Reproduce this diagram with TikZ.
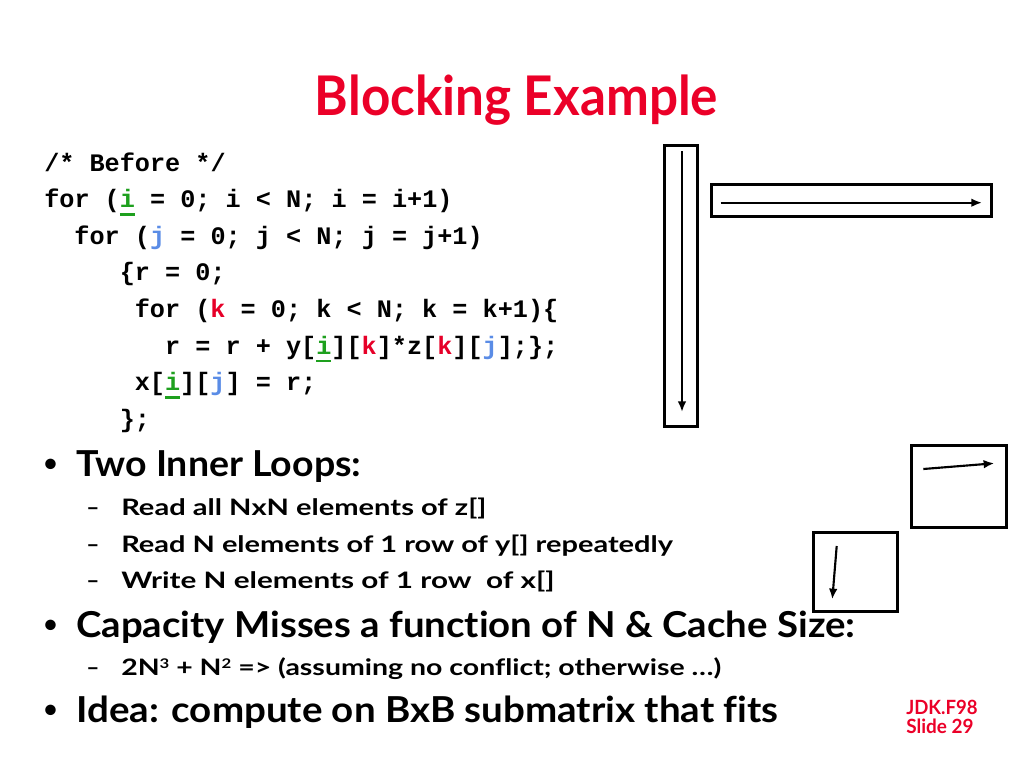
\documentclass[tikz,border=0pt]{standalone}
\usepackage{fontspec}
\usepackage{graphicx}
\usetikzlibrary{arrows.meta}
\newfontfamily\csans{Lato}[Ligatures={NoCommon,NoRare}]
\setmonofont{Liberation Mono}
\definecolor{tred}{RGB}{235,0,40}
\definecolor{cgreen}{RGB}{30,160,30}
\definecolor{cblue}{RGB}{90,140,230}
\definecolor{cred}{RGB}{230,0,40}
\newcommand\gi{\textcolor{cgreen}{\makebox[0pt][l]{\rule[-6.2pt]{0.6em}{1.9pt}}i}}
\newcommand\bj{\textcolor{cblue}{j}}
\newcommand\rk{\textcolor{cred}{k}}
\newcommand\fitw[2]{\resizebox{#1pt}{\height}{#2}}
\newcommand\supr[1]{\raisebox{0.6ex}{\fontsize{10}{10}\selectfont #1}}
\begin{document}
\begin{tikzpicture}[x=0.75pt,y=-0.75pt,
 code/.style={anchor=base west,inner sep=0pt,font=\ttfamily\bfseries\fontsize{18.9}{20}\selectfont},
 lone/.style={anchor=base west,inner sep=0pt,font=\csans\bfseries\fontsize{26.8}{28}\selectfont},
 ltwo/.style={anchor=base west,inner sep=0pt,font=\csans\bfseries\fontsize{17}{18}\selectfont},
 bul/.style={anchor=center,inner sep=0pt,font=\csans\bfseries\fontsize{18}{20}\selectfont},
 box/.style={draw,line width=2.25pt},
 arr/.style={line width=1.6pt,-{Latex[length=8pt,width=6.5pt]}}]
\useasboundingbox (0,0) rectangle (1024,768);
% title
\node[anchor=base,inner sep=0pt,text=tred,font=\csans\bfseries\fontsize{41}{42}\selectfont] (title) at (516.5,115) {\fitw{302.3}{Blocking Example}};
% code
\node[code] (c1) at (44,171) {/* Before */};
\node[code] (c2) at (44,207.6) {for (\gi{} = 0; i < N; i = i+1)};
\node[code] (c3) at (74.2,244.2) {for (\bj{} = 0; j < N; j = j+1)};
\node[code] (c4) at (119.5,280.8) {\{r = 0;};
\node[code] (c5) at (134.6,317.4) {for (\rk{} = 0; k < N; k = k+1)\{};
\node[code] (c6) at (164.8,354) {r = r + y[\gi][\rk]*z[\rk][\bj];\};};
\node[code] (c7) at (134.6,390.6) {x[\gi][\bj] = r;};
\node[code] (c8) at (119.5,427.2) {\};};
% bullets
\node[bul] (b1) at (50.5,465) {•};
\node[lone] (t1) at (76,476) {\fitw{213.8}{Two Inner Loops:}};
\node[ltwo] (d1) at (86,515) {–};
\node[ltwo] (t11) at (121,515) {\fitw{273.8}{Read all NxN elements of z[]}};
\node[ltwo] (d2) at (86,552) {–};
\node[ltwo] (t12) at (121,552) {\fitw{413.7}{Read N elements of 1 row of y[] repeatedly}};
\node[ltwo] (d3) at (86,588.5) {–};
\node[ltwo] (t13) at (121,588.5) {\fitw{325}{Write N elements of 1 row\ \ of x[]}};
\node[bul] (b2) at (50.5,626) {•};
\node[lone] (t2) at (76,637) {\fitw{584.3}{Capacity Misses a function of N \& Cache Size:}};
\node[ltwo] (d4) at (86,675) {–};
\node[ltwo] (t21) at (121,675) {\fitw{450}{2N\supr{3} + N\supr{2} => (assuming no conflict; otherwise …)}};
\node[bul] (b3) at (50.5,711) {•};
\node[lone] (t3) at (76,722) {\fitw{526.7}{Idea: compute on BxB submatrix that fits}};
% footer
\node[anchor=base west,inner sep=0pt,text=tred,font=\csans\bfseries\fontsize{14.7}{16}\selectfont] (f1) at (906,714) {\fitw{53.5}{JDK.F98}};
\node[anchor=base west,inner sep=0pt,text=tred,font=\csans\bfseries\fontsize{14.7}{16}\selectfont] (f2) at (906,733.3) {\fitw{50.5}{Slide 29}};
% matrix pictures
\draw[box] (664,145.5) rectangle (697,426);
\coordinate (va) at (682,151);
\coordinate (vb) at (682,412);
\draw[arr] (va) -- (vb);
\draw[box] (711,184) rectangle (991,216.5);
\coordinate (ha) at (720.7,202.7);
\coordinate (hb) at (982,202.7);
\draw[arr] (ha) -- (hb);
\draw[box] (911.7,445) rectangle (1006,527.7);
\coordinate (pa) at (923.3,469);
\coordinate (pb) at (994.3,463.3);
\draw[arr] (pa) -- (pb);
\draw[box] (813.3,532.3) rectangle (897.3,611);
\coordinate (qa) at (836.7,546);
\coordinate (qb) at (832.3,599.3);
\draw[arr] (qa) -- (qb);
\end{tikzpicture}
\end{document}
